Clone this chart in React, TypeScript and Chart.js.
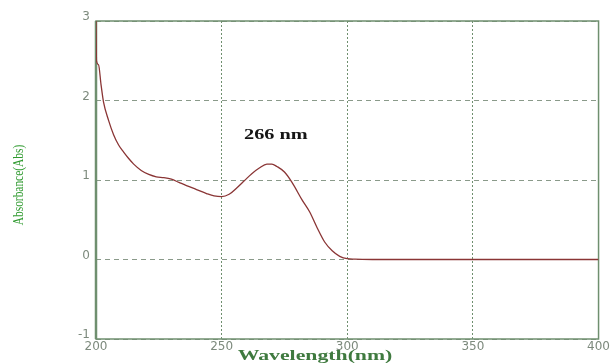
import React, { useEffect, useRef } from "react";
import { Chart, registerables } from "chart.js";

Chart.register(...registerables);

const wavelengths = [200, 200.2, 201, 202, 203, 205, 207, 209, 211, 213, 215, 218, 221, 224, 227, 230, 233, 236, 240, 244, 247, 250, 253, 256, 259, 262, 265, 268, 270, 272, 275, 278, 282, 285, 288, 291, 294, 297, 300, 303, 306, 310, 350, 400];
const absorbance = [3.0, 2.5, 2.45, 2.2, 1.98, 1.75, 1.57, 1.44, 1.35, 1.27, 1.2, 1.12, 1.07, 1.04, 1.03, 1.01, 0.97, 0.93, 0.88, 0.83, 0.8, 0.79, 0.82, 0.9, 0.99, 1.08, 1.15, 1.2, 1.2, 1.17, 1.1, 0.97, 0.75, 0.6, 0.4, 0.22, 0.11, 0.04, 0.01, 0.005, 0.002, 0, 0, 0];
const xTicks = [200, 250, 300, 350, 400];
const yTicks = [-1, 0, 1, 2, 3];
const peakLabel = "266 nm";
const peakLabelPos = { x: 271.6, y: 1.56 };
const xTitle = "Wavelength(nm)";
const yTitle = "Absorbance(Abs)";

export default function App() {
  const ref = useRef<HTMLCanvasElement | null>(null);
  useEffect(() => {
    document.body.style.margin = "0";
    const canvas = ref.current!;
    const frameColor = "#6f8f6f";
    const overlay = {
      id: "overlay",
      beforeDatasetsDraw(chart: any) {
        const ctx = chart.ctx;
        const a = chart.chartArea;
        ctx.save();
        ctx.strokeStyle = frameColor;
        ctx.lineWidth = 1.5;
        ctx.setLineDash([]);
        ctx.strokeRect(a.left, a.top, a.right - a.left, a.bottom - a.top);
        ctx.lineWidth = 2.5;
        ctx.beginPath();
        ctx.moveTo(a.left, a.top);
        ctx.lineTo(a.left, a.bottom);
        ctx.stroke();
        ctx.restore();
      },
      afterDraw(chart: any) {
        const ctx = chart.ctx;
        const a = chart.chartArea;
        const xs = chart.scales.x;
        const ys = chart.scales.y;
        ctx.save();
        ctx.textAlign = "center";
        ctx.textBaseline = "middle";
        // peak label
        ctx.save();
        ctx.translate(xs.getPixelForValue(peakLabelPos.x), ys.getPixelForValue(peakLabelPos.y));
        ctx.scale(1.45, 1);
        ctx.fillStyle = "#151515";
        ctx.font = "bold 14px 'Liberation Serif', serif";
        ctx.fillText(peakLabel, 0, 0);
        ctx.restore();
        // x title
        ctx.save();
        ctx.translate(315, 356);
        ctx.scale(1.45, 1);
        ctx.fillStyle = "#3f7a3f";
        ctx.font = "bold 15px 'Liberation Serif', serif";
        ctx.fillText(xTitle, 0, 0);
        ctx.restore();
        // y title
        ctx.save();
        ctx.translate(19, 185);
        ctx.rotate(-Math.PI / 2);
        ctx.scale(0.95, 1.25);
        ctx.fillStyle = "#2f9a2f";
        ctx.font = "12px 'Liberation Serif', serif";
        ctx.fillText(yTitle, 0, 0);
        ctx.restore();
        ctx.restore();
      },
    };
    const chart = new Chart(canvas, {
      type: "line",
      data: {
        datasets: [
          {
            data: wavelengths.map((w, i) => ({ x: w, y: absorbance[i] })),
            borderColor: "#8a3535",
            borderWidth: 1.3,
            pointRadius: 0,
            cubicInterpolationMode: "monotone",
            fill: false,
          },
        ],
      },
      options: {
        responsive: false,
        animation: false,
        layout: { padding: { top: 21, right: 12, left: 0, bottom: 0 } },
        plugins: { legend: { display: false }, tooltip: { enabled: false } },
        scales: {
          x: {
            type: "linear",
            min: 200,
            max: 400,
            afterBuildTicks: (s: any) => {
              s.ticks = xTicks.map((v) => ({ value: v }));
            },
            afterFit: (s: any) => {
              s.height = 24;
            },
            ticks: {
              color: "#7d8a7d",
              font: { family: "'DejaVu Sans', sans-serif", size: 12 },
              padding: 1,
              maxRotation: 0,
            },
            grid: {
              color: "#6f8f6f",
              lineWidth: 1,
              drawTicks: false,
            },
            border: { display: false, dash: [2, 2] },
          },
          y: {
            type: "linear",
            min: -1,
            max: 3,
            afterBuildTicks: (s: any) => {
              s.ticks = yTicks.map((v) => ({ value: v }));
            },
            afterFit: (s: any) => {
              s.width = 96;
            },
            ticks: {
              color: "#7d8a7d",
              font: { family: "'DejaVu Sans', sans-serif", size: 12 },
              padding: 6,
              labelOffset: -4,
            },
            grid: {
              color: "#8a9a8a",
              lineWidth: 1,
              drawTicks: false,
            },
            border: { display: false, dash: [5, 4] },
          },
        },
      },
      plugins: [overlay],
    });
    return () => chart.destroy();
  }, []);
  return (
    <div style={{ width: 611, height: 363, background: "#fff" }}>
      <canvas ref={ref} width={611} height={363} />
    </div>
  );
}
